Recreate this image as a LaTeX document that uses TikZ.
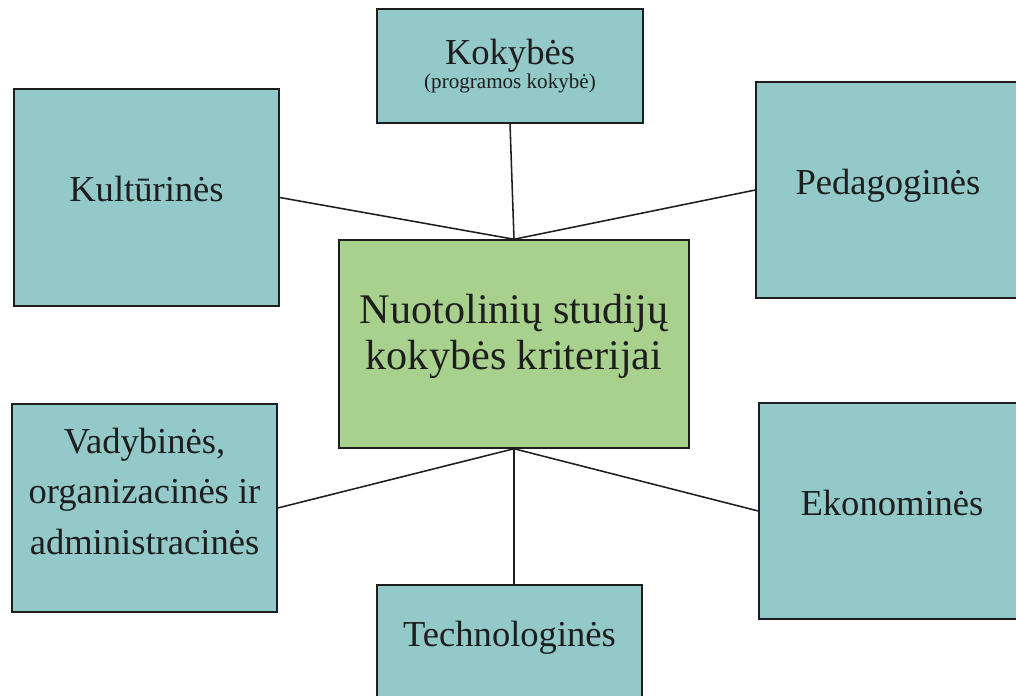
\documentclass[tikz,border=0pt]{standalone}
\usepackage{fontspec}
\setmainfont{Liberation Serif}
\usepackage{xcolor}
\definecolor{boxteal}{RGB}{147,201,201}
\definecolor{boxgreen}{RGB}{169,209,142}
\definecolor{inkdark}{RGB}{30,30,30}

\begin{document}
\begin{tikzpicture}[
    x=0.025cm, y=-0.025cm,
    criterion/.style={rectangle, minimum width=6.625cm, minimum height=5.4cm, inner sep=0pt, align=center, draw=inkdark, line width=1pt, fill=boxteal, text=inkdark, font=\fontsize{26}{36}\selectfont},
    oneline/.style={text height=18pt, text depth=12pt},
    core/.style={rectangle, minimum width=8.75cm, minimum height=5.2cm, inner sep=0pt, align=center, draw=inkdark, line width=1pt, fill=boxgreen, text=inkdark, font=\fontsize{30}{33}\selectfont},
    link/.style={line width=1.1pt, draw=inkdark}
]
\useasboundingbox (0,0) rectangle (1016,695);
\clip (0,0) rectangle (1016,695);

\node (core) [core, text depth=17pt] at (514,344) {Nuotolinių studijų\\kokybės kriterijai};
\node (kok) [criterion, minimum width=6.65cm, minimum height=2.85cm, font=\fontsize{26}{13.5}\selectfont] at (510,66) {Kokybės\\{\fontsize{15}{15}\selectfont (programos kokybė)}};
\node (kult) [criterion, oneline, minimum height=5.425cm] at (146.5,197.5) {Kultūrinės};
\node (ped) [criterion, oneline, minimum width=6.6cm] at (888,190) {Pedagoginės};
\node (vad) [criterion, minimum height=5.2cm, text depth=24pt] at (144.5,508) {Vadybinės,\\organizacinės ir\\administracinės};
\node (ekon) [criterion, oneline, minimum width=6.65cm] at (892,511) {Ekonominės};
\node (tech) [criterion, oneline, minimum height=2.875cm] at (509.5,642.5) {Technologinės};

\draw[link] (core.north) -- (kok.south);
\draw[link] (core.north) -- (kult.east);
\draw[link] (core.north) -- (ped.west);
\draw[link] (core.south) -- (vad.east);
\draw[link] (core.south) -- (ekon.west);
\draw[link] (core.south) -- (core.south |- tech.north);

\end{tikzpicture}
\end{document}
